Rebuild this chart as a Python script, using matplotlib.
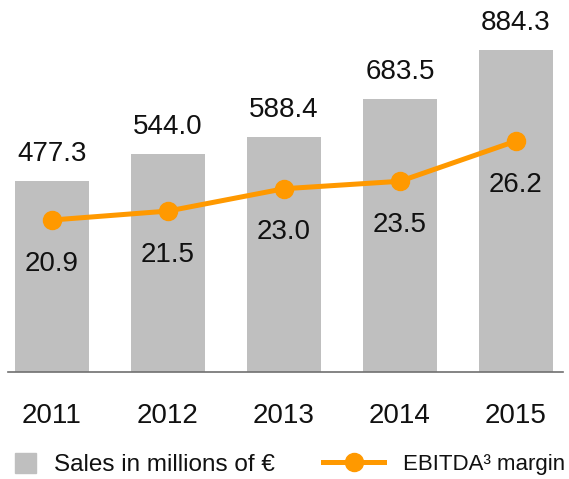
import numpy as np
import matplotlib
matplotlib.use('Agg')
import matplotlib.pyplot as plt
from matplotlib.patches import Patch
from matplotlib.lines import Line2D

plt.rcParams['font.family'] = ['Liberation Sans', 'DejaVu Sans']

years = ["2011", "2012", "2013", "2014", "2015"]
sales = [477.3, 544.0, 588.4, 683.5, 884.3]        # millions of EUR
ebitda_margin = [20.9, 21.5, 23.0, 23.5, 26.2]     # percent

# the tallest bar is cut off at the top of the plot area in the original
SALES_CAP = 805

BAR_GREY = "#bfbfbf"
ORANGE = "#ff9900"
TEXT = "#111111"

fig = plt.figure(figsize=(5.69, 4.79), dpi=100)
ax = fig.add_axes([0, 0.2234, 1, 0.6722])

x = np.arange(len(years))
shown = np.minimum(sales, SALES_CAP)

# ── bars: sales ──────────────────────────────────────────────────────────────
ax.bar(x, shown, width=0.638, color=BAR_GREY, zorder=1)
ax.set_xlim(-0.448, 4.457)
ax.set_ylim(0, SALES_CAP)
for xi, h, v in zip(x, shown, sales):
    ax.annotate(f"{v:.1f}", (xi, h), xytext=(0, 19.5), textcoords="offset points",
                ha="center", va="center", fontsize=20, color=TEXT,
                annotation_clip=False)

ax.axhline(0, xmin=0.014, xmax=0.989, color="#707070", lw=1.2, clip_on=False)
ax.set_xticks(x, years)
ax.tick_params(axis="x", length=0, pad=22, labelsize=20, labelcolor=TEXT)
ax.set_yticks([])
for s in ax.spines.values():
    s.set_visible(False)

# ── line: EBITDA margin ──────────────────────────────────────────────────────
ax2 = ax.twinx()
ax2.set_ylim(10.70, 32.31)
ax2.plot(x, ebitda_margin, color=ORANGE, lw=3.6, marker="o", ms=13,
         solid_capstyle="round", clip_on=False)
for xi, v in zip(x, ebitda_margin):
    ax2.annotate(f"{v:.1f}", (xi, v), xytext=(0, -31.5), textcoords="offset points",
                 ha="center", va="center", fontsize=20, color=TEXT,
                 annotation_clip=False)
ax2.set_yticks([])
for s in ax2.spines.values():
    s.set_visible(False)

# ── legend ───────────────────────────────────────────────────────────────────
fig.legend([Patch(color=BAR_GREY)], ["Sales in millions of €"],
           loc="center left", bbox_to_anchor=(0.0257, 0.03),
           frameon=False, fontsize=17.5, handlelength=0.9, handleheight=0.9,
           handletextpad=0.74, borderpad=0, borderaxespad=0, labelcolor=TEXT)
fig.legend([Line2D([], [], color=ORANGE, lw=3.6, marker="o", ms=13)],
           ["EBITDA³ margin"],
           loc="center left", bbox_to_anchor=(0.5677, 0.03),
           frameon=False, fontsize=16, handlelength=2.75, numpoints=1,
           handletextpad=0.85, borderpad=0, borderaxespad=0, labelcolor=TEXT)

fig.savefig("out.png", dpi=100)
